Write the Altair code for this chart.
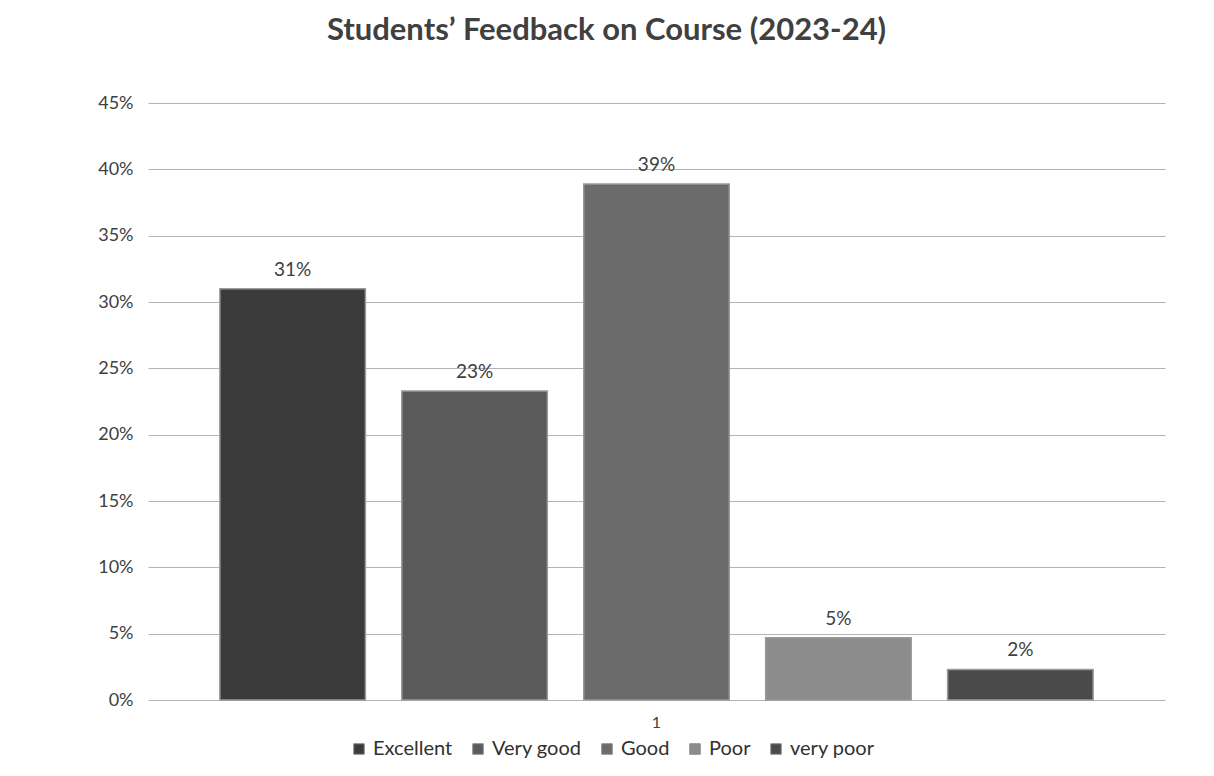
import altair as alt
import pandas as pd

ratings = ["Excellent", "Very good", "Good", "Poor", "very poor"]
shares = [0.31, 0.233, 0.389, 0.047, 0.023]
group = ["1", "1", "1", "1", "1"]
colors = ["#3b3b3b", "#5a5a5a", "#6b6b6b", "#8c8c8c", "#4a4a4a"]
y_ticks = [0, 0.05, 0.10, 0.15, 0.20, 0.25, 0.30, 0.35, 0.40, 0.45]

df = pd.DataFrame({"group": group, "rating": ratings, "share": shares})

FONT = "Lato"

x_enc = alt.X("group:N", title=None,
              scale=alt.Scale(paddingInner=0, paddingOuter=0.059),
              axis=alt.Axis(labelAngle=0, labelFontSize=16, labelColor="#404040",
                            labelPadding=14, ticks=False, domain=False, grid=False))
xo_enc = alt.XOffset("rating:N", sort=ratings,
                     scale=alt.Scale(paddingInner=0.2, paddingOuter=0.1))
y_enc = alt.Y("share:Q", title=None,
              scale=alt.Scale(domain=[0, 0.45], nice=False),
              axis=alt.Axis(values=y_ticks, format=".0%", labelFontSize=18,
                            labelColor="#404040", labelPadding=15, ticks=False,
                            domain=False, gridColor="#b4b4b4", gridWidth=1))

bars = alt.Chart(df).mark_bar(stroke="#9a9a9a", strokeWidth=1.5).encode(
    x=x_enc,
    xOffset=xo_enc,
    y=y_enc,
    color=alt.Color("rating:N", sort=ratings,
                    scale=alt.Scale(domain=ratings, range=colors),
                    legend=alt.Legend(title=None, orient="none", direction="horizontal",
                                      legendX=201, legendY=636, columns=5,
                                      symbolType="square", symbolSize=110,
                                      symbolStrokeColor="#888", symbolStrokeWidth=1,
                                      labelFontSize=20, labelColor="#303030",
                                      labelFont=FONT, columnPadding=15,
                                      symbolOffset=0, labelOffset=4)),
)

labels = alt.Chart(df).mark_text(baseline="bottom", dy=-9, fontSize=19,
                                 color="#404040", font=FONT).encode(
    x=alt.X("group:N", scale=alt.Scale(paddingInner=0, paddingOuter=0.059)),
    xOffset=xo_enc,
    y=alt.Y("share:Q"),
    text=alt.Text("share:Q", format=".0%"),
)

chart = alt.layer(bars, labels).properties(
    width=1017,
    height=597,
    autosize=alt.AutoSizeParams(type="none"),
    padding={"left": 140, "top": 95, "right": 40, "bottom": 60},
    background="white",
    title=alt.TitleParams("Students\u2019 Feedback on Course (2023-24)",
                          fontSize=31, font=FONT, fontWeight="bold",
                          color="#404040", anchor="middle", dx=-50, offset=47),
).configure_view(stroke=None).configure_axis(labelFont=FONT)

chart.save("out.html", embed_options={"renderer": "svg", "actions": False})
